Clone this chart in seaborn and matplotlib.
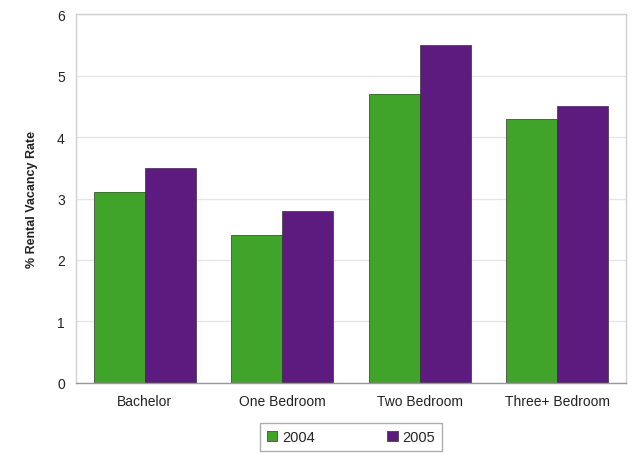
import pandas as pd
import matplotlib.pyplot as plt
import seaborn as sns

# Rental vacancy rate by unit type, 2004 vs 2005
categories = ['Bachelor', 'One Bedroom', 'Two Bedroom', 'Three+ Bedroom']
rate_2004 = [3.1, 2.4, 4.7, 4.3]
rate_2005 = [3.5, 2.8, 5.5, 4.5]
years = ['2004', '2005']

df = pd.DataFrame({
    'unit': categories * 2,
    'year': [years[0]] * 4 + [years[1]] * 4,
    'rate': rate_2004 + rate_2005,
})

sns.set_style('white')
plt.rcParams['font.family'] = ['Liberation Sans', 'DejaVu Sans']

fig = plt.figure(figsize=(6.33, 4.56), dpi=100)
ax = fig.add_axes([0.12, 0.158, 0.869, 0.809])

sns.barplot(data=df, x='unit', y='rate', hue='year',
            palette=['#41a42a', '#5e1b7f'], saturation=1, width=0.74, gap=0,
            edgecolor='#333333', linewidth=0.5, ax=ax)

ax.set_ylim(0, 6)
ax.set_yticks(range(0, 7))
ax.yaxis.grid(True, color='#e6e6e6', linewidth=1)
ax.set_axisbelow(True)
for s in ax.spines.values():
    s.set_color('#d0d0d0')
    s.set_linewidth(1)
ax.spines['bottom'].set_color('#999999')

ax.set_xlabel('')
ax.set_ylabel('% Rental Vacancy Rate', fontsize=9, fontweight='bold',
              color='#222222', labelpad=14)
ax.tick_params(axis='both', labelsize=10, colors='#222222', length=0, pad=8)

ax.legend(loc='upper center', bbox_to_anchor=(0.5, -0.108), ncol=2,
          frameon=True, fancybox=False, edgecolor='#999999', fontsize=10.5,
          handlelength=0.7, handleheight=0.7, handletextpad=0.3,
          columnspacing=5.0, borderpad=0.5, borderaxespad=0)

fig.savefig('out.png', dpi=100)
